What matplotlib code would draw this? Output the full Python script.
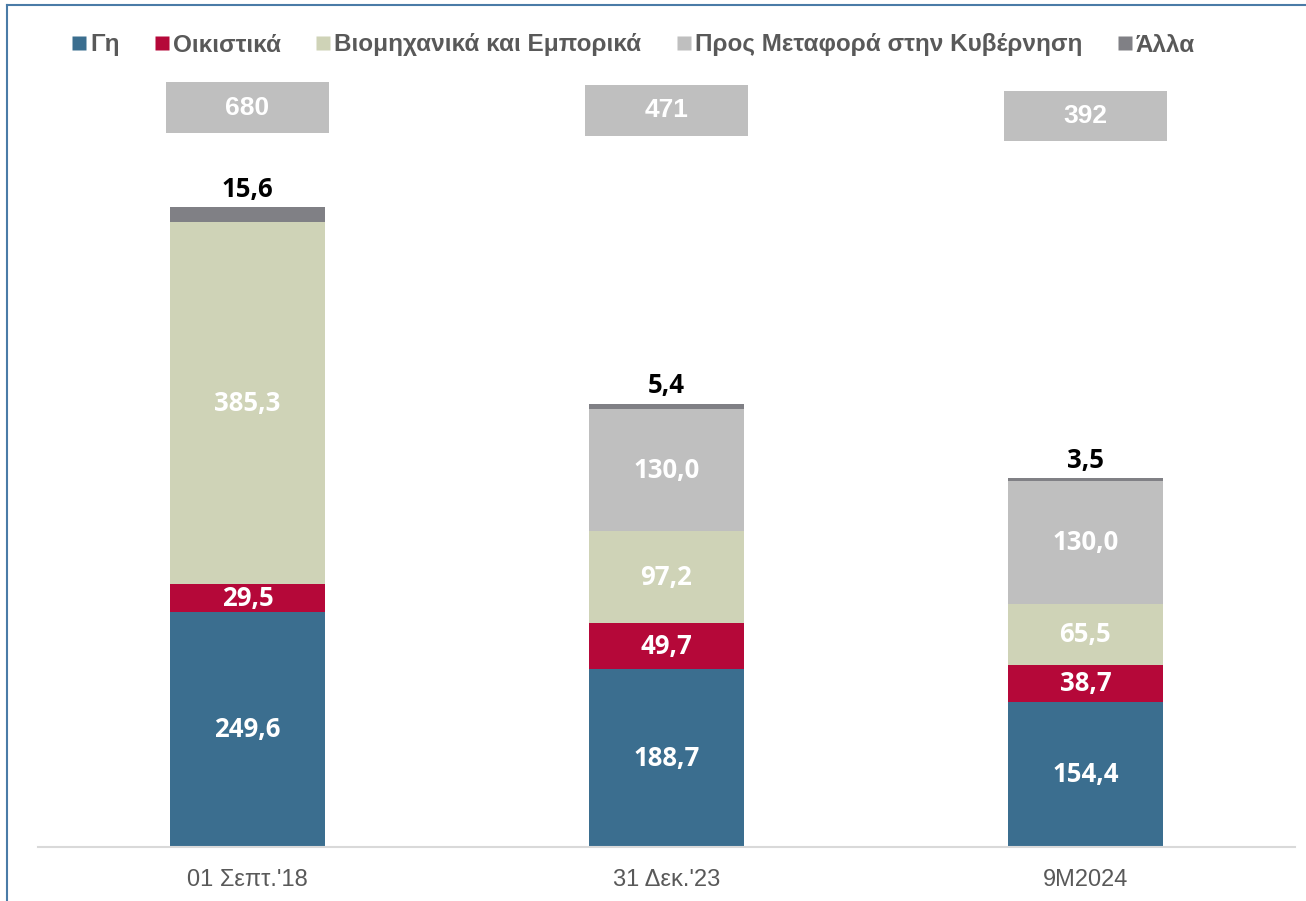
import matplotlib.pyplot as plt
from matplotlib.patches import Rectangle
from matplotlib.lines import Line2D

# δεδομένα
periods = ["01 Σεπτ.'18", "31 Δεκ.'23", "9M2024"]
series_names = ["Γη", "Οικιστικά", "Βιομηχανικά και Εμπορικά",
                "Προς Μεταφορά στην Κυβέρνηση", "Άλλα"]
gi = [249.6, 188.7, 154.4]
oikistika = [29.5, 49.7, 38.7]
viomichanika = [385.3, 97.2, 65.5]
metafora = [0.0, 130.0, 130.0]
alla = [15.6, 5.4, 3.5]
totals = [680, 471, 392]

colors = ["#3B6E8F", "#B50839", "#CFD3B7", "#BFBFBF", "#808085"]
label_colors = ["white", "white", "white", "white", "black"]

plt.rcParams['font.family'] = ['Liberation Sans', 'DejaVu Sans']
lbl_font = ['Open Sans', 'DejaVu Sans']

fig = plt.figure(figsize=(13.06, 9.01), dpi=100)
# άξονες: x 38..1295 px, y 70..847 px
ax = fig.add_axes([38 / 1306, 54 / 901, 1257 / 1306, 777 / 901])

x = list(range(len(periods)))
width = 0.37
bottom = [0.0] * len(periods)
data = [gi, oikistika, viomichanika, metafora, alla]

for i, (vals, col) in enumerate(zip(data, colors)):
    ax.bar(x, vals, width, bottom=bottom, color=col, zorder=2)
    for j, v in enumerate(vals):
        if v <= 0:
            continue
        txt = f"{v:.1f}".replace(".", ",")
        if i == 4:
            ax.annotate(txt, (x[j], bottom[j] + v), xytext=(0, 13),
                        textcoords='offset points', ha='center', va='center',
                        fontsize=18.5, fontweight='bold', color='black',
                        family=lbl_font)
        else:
            ax.text(x[j], bottom[j] + v / 2, txt, ha='center', va='center',
                    fontsize=18.5, fontweight='bold', color=label_colors[i],
                    family=lbl_font)
    bottom = [b + v for b, v in zip(bottom, vals)]

# κουτιά συνόλων
box_y = [759, 756, 750]
box_h = 54
box_w = 0.39
for j, t in enumerate(totals):
    ax.add_patch(Rectangle((x[j] - box_w / 2, box_y[j]), box_w, box_h,
                           facecolor="#BFBFBF", edgecolor='none',
                           clip_on=False, zorder=3))
    ax.text(x[j], box_y[j] + box_h / 2, str(t), ha='center', va='center',
            fontsize=19, fontweight='bold', color='white', zorder=4)

ax.set_xlim(-0.5, 2.5)
ax.set_ylim(0, 826)
ax.set_xticks(x)
ax.set_xticklabels(periods, fontsize=17, color="#595959")
ax.tick_params(axis='x', length=0, pad=16)
ax.set_yticks([])
for s in ['top', 'right', 'left']:
    ax.spines[s].set_visible(False)
ax.spines['bottom'].set_color("#D9D9D9")
ax.spines['bottom'].set_linewidth(1.5)

# υπόμνημα
handles = [Line2D([], [], marker='s', linestyle='none', markersize=10.5,
                  markerfacecolor=c, markeredgecolor='none') for c in colors]
leg = fig.legend(handles, series_names, loc='center left',
                 bbox_to_anchor=(62 / 1306, 1 - 45 / 901), ncol=5,
                 frameon=False, handlelength=0.6, handletextpad=0.15,
                 columnspacing=1.45, borderaxespad=0,
                 prop={'size': 17.5, 'weight': 'bold'})
for t in leg.get_texts():
    t.set_color("#595959")

# περίγραμμα
fig.add_artist(Line2D([7 / 1306, 1], [1 - 5 / 901, 1 - 5 / 901],
                      color="#4A7BA7", linewidth=1.5))
fig.add_artist(Line2D([7 / 1306, 7 / 1306], [0, 1 - 5 / 901],
                      color="#4A7BA7", linewidth=1.5))

fig.savefig("out.png", dpi=100)
